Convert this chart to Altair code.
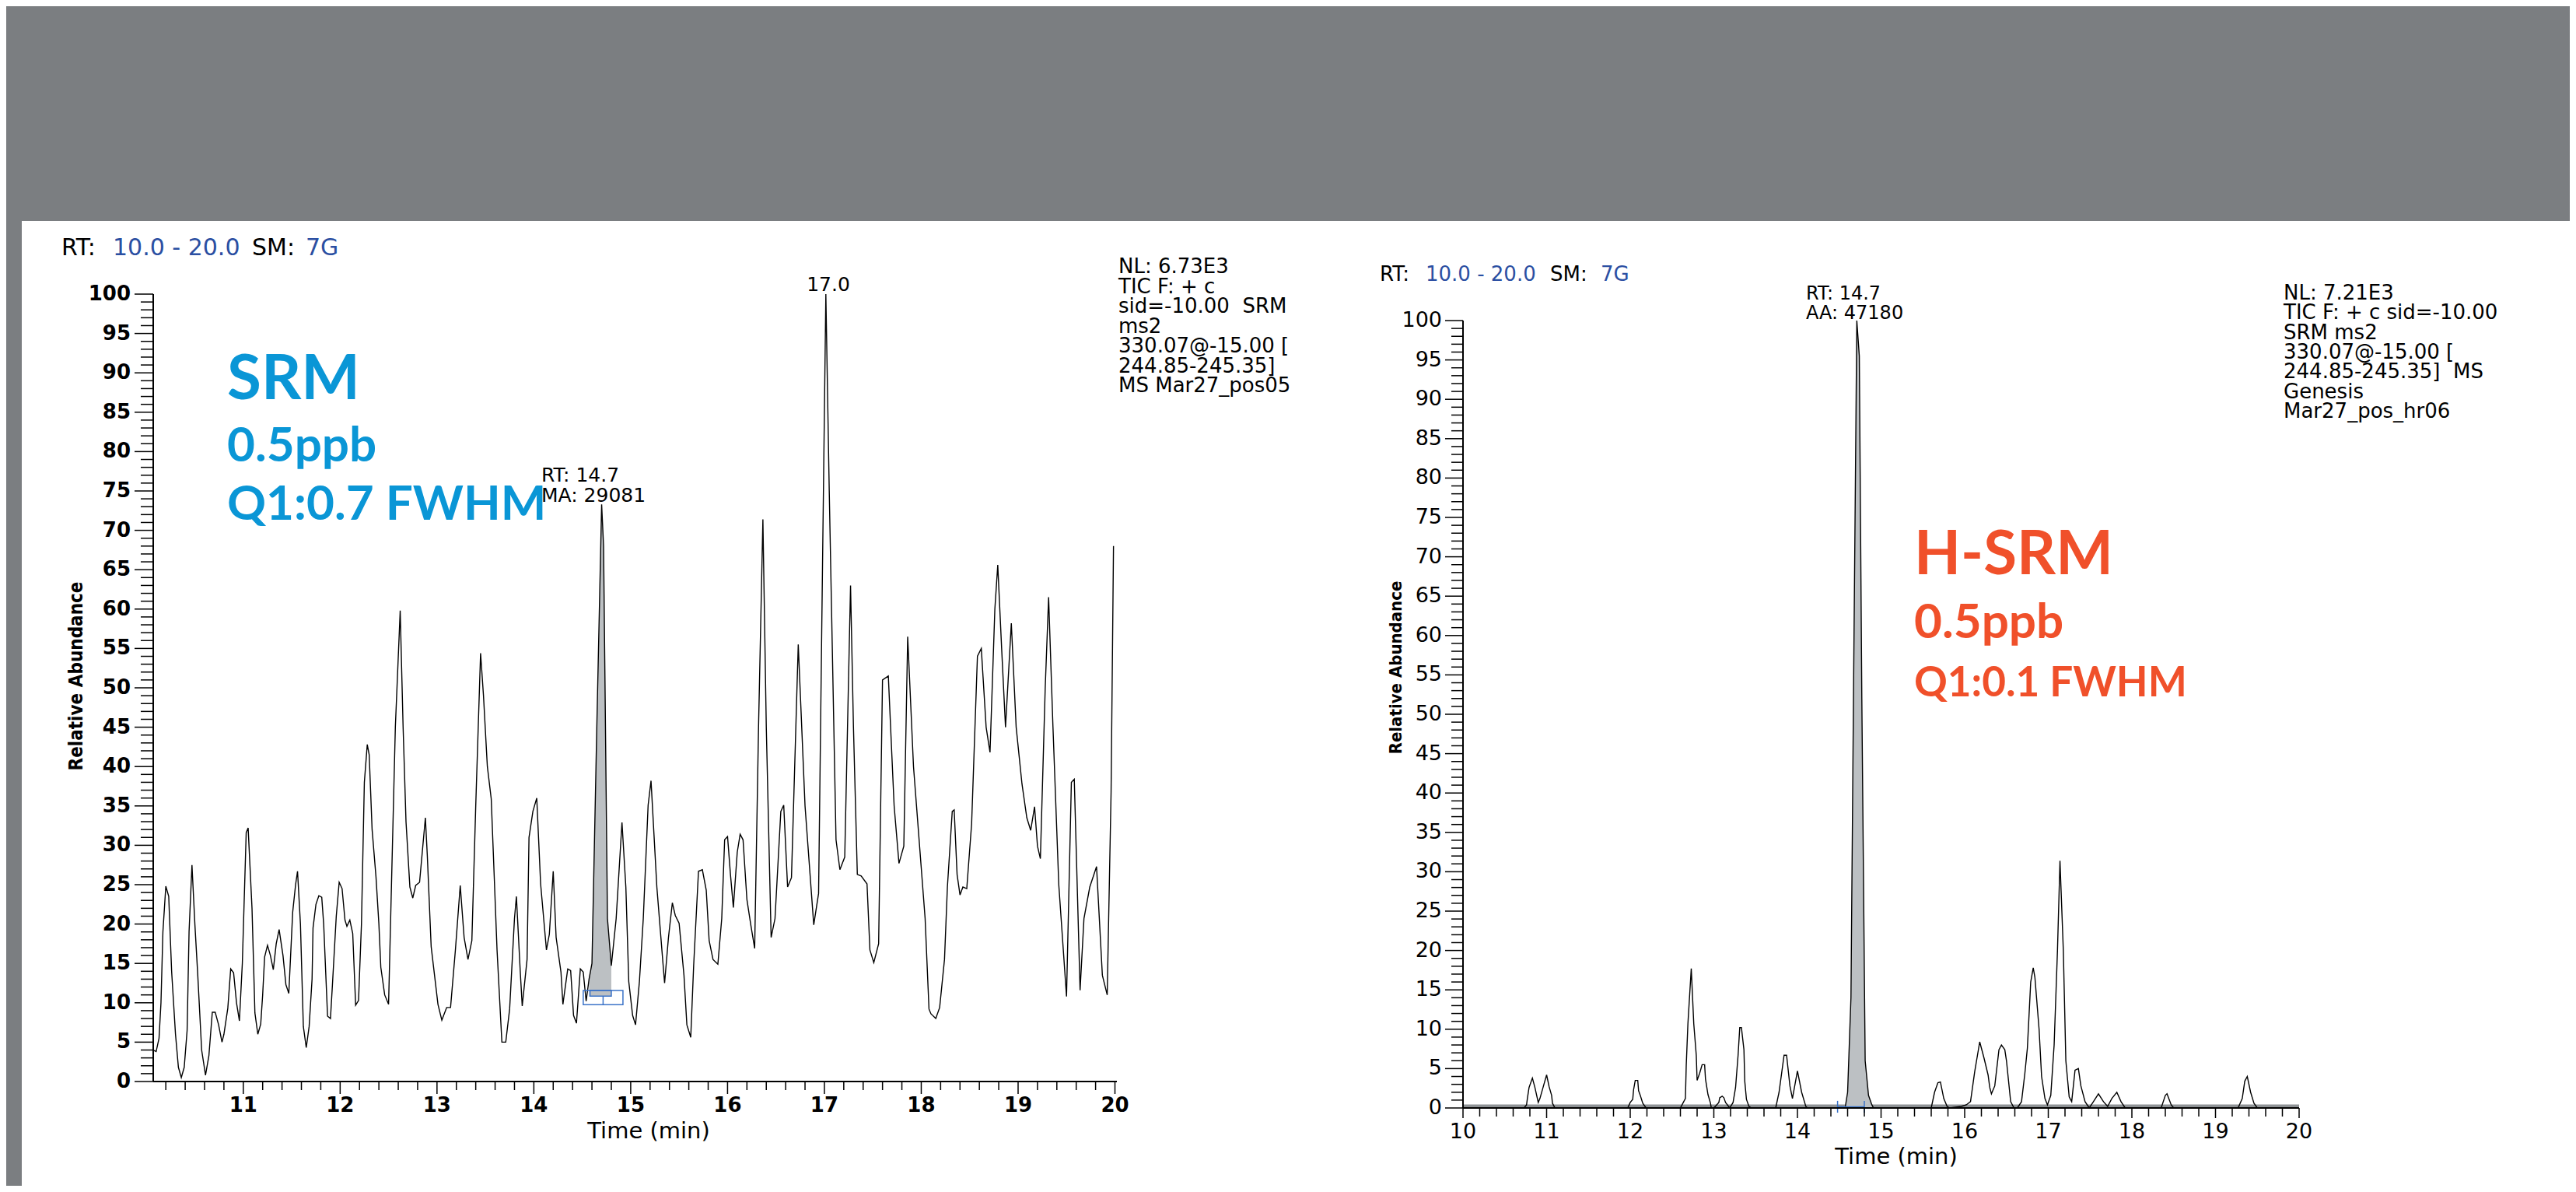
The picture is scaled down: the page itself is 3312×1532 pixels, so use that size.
import altair as alt
import pandas as pd

# ---------------- SRM (left panel) trace ----------------
srm_time = [10.07, 10.10, 10.13, 10.15, 10.17, 10.20, 10.23, 10.26, 10.30, 10.33, 10.36, 10.39, 10.42, 10.44,
            10.47, 10.50, 10.53, 10.57, 10.61, 10.645, 10.68, 10.71, 10.745, 10.78, 10.80, 10.84, 10.87, 10.90,
            10.93, 10.96, 10.99, 11.03, 11.05, 11.09, 11.12, 11.15, 11.18, 11.20, 11.22, 11.25, 11.28, 11.31,
            11.34, 11.37, 11.41, 11.44, 11.47, 11.51, 11.54, 11.56, 11.59, 11.62, 11.65, 11.68, 11.71, 11.72,
            11.75, 11.78, 11.81, 11.83, 11.87, 11.90, 11.92, 11.96, 11.99, 12.02, 12.05, 12.07, 12.10, 12.13,
            12.16, 12.19, 12.22, 12.25, 12.28, 12.30, 12.33, 12.37, 12.40, 12.42, 12.46, 12.50, 12.53, 12.57,
            12.62, 12.65, 12.68, 12.72, 12.75, 12.78, 12.82, 12.88, 12.90, 12.94, 13.01, 13.05, 13.10, 13.14,
            13.19, 13.24, 13.28, 13.32, 13.36, 13.40, 13.45, 13.48, 13.52, 13.56, 13.62, 13.67, 13.71, 13.75,
            13.80, 13.82, 13.86, 13.88, 13.93, 13.95, 13.99, 14.03, 14.07, 14.13, 14.16, 14.20, 14.23, 14.28,
            14.30, 14.35, 14.38, 14.41, 14.44, 14.48, 14.51, 14.54, 14.57, 14.60, 14.65, 14.70, 14.72, 14.76,
            14.80, 14.85, 14.91, 14.95, 14.98, 15.02, 15.05, 15.09, 15.13, 15.18, 15.21, 15.27, 15.33, 15.35,
            15.39, 15.43, 15.46, 15.50, 15.55, 15.58, 15.62, 15.65, 15.70, 15.74, 15.78, 15.81, 15.85, 15.90,
            15.94, 15.97, 16.00, 16.03, 16.06, 16.10, 16.13, 16.16, 16.20, 16.24, 16.28, 16.32, 16.365, 16.40,
            16.45, 16.49, 16.55, 16.58, 16.62, 16.66, 16.73, 16.80, 16.89, 16.94, 16.98, 17.015, 17.05, 17.12,
            17.16, 17.21, 17.27, 17.30, 17.34, 17.38, 17.44, 17.47, 17.51, 17.56, 17.60, 17.66, 17.72, 17.77,
            17.82, 17.86, 17.92, 18.04, 18.08, 18.10, 18.15, 18.19, 18.24, 18.27, 18.32, 18.34, 18.37, 18.40,
            18.43, 18.47, 18.52, 18.58, 18.62, 18.67, 18.71, 18.76, 18.79, 18.83, 18.87, 18.93, 18.98, 19.04,
            19.09, 19.13, 19.17, 19.20, 19.23, 19.28, 19.315, 19.36, 19.42, 19.50, 19.55, 19.58, 19.64, 19.68,
            19.74, 19.81, 19.87, 19.92, 19.96, 19.985]
srm_abund = [4.0, 3.8, 5.5, 10.0, 19.0, 24.8, 23.5, 14.0, 6.0, 1.8, 0.5, 1.8, 6.5, 19.0,
             27.5, 20.0, 13.5, 4.0, 0.8, 3.3, 8.8, 8.8, 7.2, 5.0, 6.0, 9.3, 14.3, 13.8,
             10.0, 7.7, 15.0, 31.6, 32.2, 22.0, 8.7, 6.0, 7.3, 11.0, 15.8, 17.3, 16.0, 14.2,
             17.5, 19.3, 16.0, 12.3, 11.2, 21.5, 25.0, 26.7, 20.0, 7.0, 4.3, 7.0, 13.0, 19.5,
             22.5, 23.6, 23.4, 20.0, 8.3, 8.0, 12.2, 21.0, 25.3, 24.5, 20.5, 19.7, 20.5, 18.8,
             9.7, 10.3, 20.0, 38.0, 42.8, 41.5, 32.0, 26.0, 20.0, 14.5, 11.0, 9.8, 25.0, 45.0,
             59.8, 45.0, 33.0, 24.7, 23.3, 24.9, 25.3, 33.5, 28.7, 17.1, 9.8, 7.8, 9.4, 9.4,
             16.7, 24.9, 18.3, 15.5, 17.9, 35.0, 54.4, 49.0, 40.0, 35.9, 16.7, 5.0, 5.0, 9.2,
             20.7, 23.5, 13.9, 9.6, 15.5, 31.0, 34.3, 36.0, 25.1, 16.7, 18.7, 26.7, 18.3, 13.9,
             9.8, 14.3, 14.1, 8.4, 7.4, 14.3, 13.9, 10.2, 13.0, 15.0, 45.0, 73.3, 68.0, 20.7,
             14.7, 20.7, 32.9, 24.7, 12.7, 8.4, 7.2, 12.7, 20.7, 35.1, 38.2, 24.7, 15.5, 12.5,
             18.3, 22.7, 21.1, 20.1, 13.5, 7.2, 5.6, 14.7, 26.7, 26.9, 24.3, 17.9, 15.5, 14.9,
             20.7, 30.7, 31.1, 26.3, 22.1, 29.1, 31.4, 30.7, 23.1, 19.9, 16.9, 45.0, 71.4, 45.0,
             18.3, 20.7, 34.3, 35.1, 24.7, 25.9, 55.5, 35.0, 19.9, 23.9, 65.0, 100.0, 75.0, 30.7,
             26.9, 28.5, 63.0, 45.0, 26.3, 26.1, 25.1, 16.7, 15.1, 17.5, 51.0, 51.5, 35.0, 27.7,
             29.9, 56.5, 40.0, 20.7, 9.2, 8.6, 8.0, 9.4, 15.5, 24.7, 34.3, 34.5, 26.3, 23.7,
             24.7, 24.5, 32.7, 54.0, 55.0, 45.0, 41.8, 60.0, 65.6, 55.0, 45.0, 58.2, 45.0, 37.8,
             33.5, 31.9, 34.9, 29.9, 28.3, 50.0, 61.5, 45.0, 25.0, 10.8, 38.0, 38.4, 11.6, 20.7,
             24.7, 27.3, 13.5, 11.0, 36.7, 68.0]

# ---------------- H-SRM (right panel) trace ----------------
hsrm_time = [10.0, 10.73, 10.76, 10.77, 10.79, 10.83, 10.86, 10.90, 10.92, 10.96, 11.00, 11.03, 11.06, 11.07,
             11.10, 11.97, 12.00, 12.03, 12.04, 12.06, 12.09, 12.10, 12.12, 12.15, 12.19, 12.60, 12.63, 12.66,
             12.67, 12.69, 12.73, 12.76, 12.79, 12.80, 12.83, 12.86, 12.89, 12.90, 12.93, 12.96, 12.97, 13.00,
             13.06, 13.07, 13.10, 13.12, 13.14, 13.19, 13.23, 13.26, 13.29, 13.31, 13.33, 13.36, 13.37, 13.39,
             13.42, 13.45, 13.74, 13.78, 13.84, 13.87, 13.91, 13.94, 14.00, 14.05, 14.10, 14.12, 14.57, 14.60,
             14.64, 14.67, 14.71, 14.74, 14.77, 14.81, 14.85, 14.89, 14.91, 15.60, 15.64, 15.68, 15.71, 15.75,
             15.79, 15.82, 15.96, 16.02, 16.07, 16.12, 16.18, 16.23, 16.28, 16.30, 16.32, 16.36, 16.41, 16.44,
             16.48, 16.50, 16.55, 16.59, 16.63, 16.68, 16.72, 16.75, 16.79, 16.82, 16.84, 16.89, 16.92, 16.96,
             16.99, 17.03, 17.07, 17.11, 17.14, 17.18, 17.21, 17.25, 17.28, 17.32, 17.36, 17.39, 17.44, 17.49,
             17.54, 17.60, 17.66, 17.71, 17.76, 17.82, 17.87, 17.92, 18.35, 18.40, 18.42, 18.47, 18.50, 19.27,
             19.32, 19.35, 19.38, 19.42, 19.46, 19.50, 20.0]
hsrm_abund = [0.0, 0.0, 0.4, 1.2, 2.6, 3.8, 2.6, 0.7, 1.2, 2.7, 4.2, 2.7, 1.6, 0.6,
              0.0, 0.0, 0.7, 1.1, 2.3, 3.5, 3.5, 2.2, 1.6, 0.6, 0.0, 0.0, 0.6, 1.2,
              5.4, 10.7, 17.7, 10.7, 6.7, 3.5, 4.4, 5.5, 5.5, 3.7, 1.7, 0.6, 0.0, 0.0,
              0.7, 1.3, 1.5, 1.3, 0.7, 0.0, 0.7, 2.6, 6.7, 10.2, 10.2, 7.4, 3.4, 1.1,
              0.2, 0.0, 0.0, 2.0, 6.7, 6.7, 2.8, 1.2, 4.7, 2.0, 0.2, 0.0, 0.0, 2.0,
              14.0, 52.0, 100.0, 95.5, 52.0, 6.0, 1.6, 0.4, 0.0, 0.0, 2.0, 3.2, 3.3, 1.2,
              0.2, 0.0, 0.2, 0.4, 0.8, 4.6, 8.4, 6.4, 4.2, 2.6, 1.8, 2.8, 7.4, 8.0,
              7.4, 6.0, 0.8, 0.0, 0.0, 0.8, 4.4, 7.6, 16.0, 17.8, 16.6, 10.0, 4.0, 1.2,
              0.4, 1.6, 8.0, 20.0, 31.4, 20.0, 6.0, 1.4, 0.8, 4.8, 5.0, 2.8, 0.8, 0.0,
              0.8, 1.8, 0.8, 0.2, 1.2, 2.0, 0.8, 0.0, 0.0, 1.6, 1.8, 0.4, 0.0, 0.0,
              1.2, 3.4, 4.0, 2.0, 0.6, 0.0, 0.0]

# integrated peak windows and baseline markers
srm_peak_window = [14.57, 14.80]
srm_peak_base = 10.8
hsrm_peak_window = [14.57, 14.91]
srm_box_outer = [14.51, 14.92, 9.76, 11.55]
srm_box_inner = [14.58, 14.80, 10.84, 11.55]
srm_box_stem = [14.715, 9.76, 10.84]
hsrm_marker_times = [14.48, 14.80]

# axis ticks
srm_x_major = [11, 12, 13, 14, 15, 16, 17, 18, 19, 20]
hsrm_x_major = [10, 11, 12, 13, 14, 15, 16, 17, 18, 19, 20]
x_minor = [round(10 + 0.2 * i, 1) for i in range(1, 50) if i % 5]
y_major = list(range(0, 101, 5))
y_minor = [v for v in range(0, 101) if v % 5]

# texts
srm_info = ["NL: 6.73E3", "TIC F: + c", "sid=-10.00\u00a0\u00a0SRM", "ms2",
            "330.07@-15.00 [", "244.85-245.35]", "MS Mar27_pos05"]
hsrm_info = ["NL: 7.21E3", "TIC F: + c sid=-10.00", "SRM ms2", "330.07@-15.00 [",
             "244.85-245.35]\u00a0\u00a0MS", "Genesis", "Mar27_pos_hr06"]
srm_title = ["SRM", "0.5ppb", "Q1:0.7 FWHM"]
hsrm_title = ["H-SRM", "0.5ppb", "Q1:0.1 FWHM"]
x_title = "Time (min)"
y_title = "Relative Abundance"

# ---------------- styling ----------------
BAND = "#7b7e81"
HDR_BLUE = "#2b4fa2"
SRM_BLUE = "#0a96d6"
HSRM_ORANGE = "#f0502a"
PEAK_FILL = "#bcc0c3"
BOX_BLUE = "#3b73c8"
FONT = "DejaVu Sans"
CONDFONT = "DejaVu Sans Condensed, DejaVu Sans"
BIGFONT = "Lato"

ONE = pd.DataFrame({"k": [0]})


def text_mark(px, py, s, size, color, font=FONT, weight="normal", align="left", baseline="middle", angle=0):
    return alt.Chart(ONE).mark_text(font=font, fontSize=size, color=color, fontWeight=weight,
                                    align=align, baseline=baseline, angle=angle).encode(
        x=alt.value(px), y=alt.value(py), text=alt.value(s))


def gray_rect(x0, x1, y0, y1):
    return alt.Chart(ONE).mark_rect(fill=BAND, strokeWidth=0).encode(
        x=alt.value(x0), x2=alt.value(x1), y=alt.value(y0), y2=alt.value(y1))


def panel(time, abund, xdom, ydom, W, H, x_major, peak_window, peak_base, cfg):
    xs = alt.Scale(domain=xdom, nice=False, zero=False)
    ys = alt.Scale(domain=ydom, nice=False, zero=False)
    X = lambda f: alt.X(f, scale=xs, axis=None)
    Y = lambda f: alt.Y(f, scale=ys, axis=None)
    df = pd.DataFrame({"t": time, "v": abund})
    pk = df[(df.t >= peak_window[0]) & (df.t <= peak_window[1])].copy()
    pk["v2"] = peak_base

    layers = [gray_rect(*r) for r in cfg["gray"]]

    if cfg.get("baseline_band"):
        layers.append(alt.Chart(pd.DataFrame({"t": [xdom[0]], "t2": [xdom[1]], "v": [0.25]})).mark_rule(
            color="#8e9295", strokeWidth=4).encode(x=X("t:Q"), x2="t2:Q", y=Y("v:Q")))

    # peak fill and trace
    layers.append(alt.Chart(pk).mark_area(color=PEAK_FILL, opacity=1).encode(
        x=X("t:Q"), y=Y("v:Q"), y2="v2:Q"))
    layers.append(alt.Chart(df).mark_line(color="black", strokeWidth=1.4).encode(
        x=X("t:Q"), y=Y("v:Q")))

    layers.extend(cfg["extra"](xs, ys))

    # ---- axes drawn from tick lists through the scales ----
    layers.append(alt.Chart(pd.DataFrame({"t": [xdom[0]], "t2": [xdom[1]], "v": [0]})).mark_rule(
        color="black", strokeWidth=2).encode(x=X("t:Q"), x2="t2:Q", y=Y("v:Q")))
    layers.append(alt.Chart(pd.DataFrame({"t": [xdom[0]], "v": [0], "v2": [100]})).mark_rule(
        color="black", strokeWidth=2).encode(x=X("t:Q"), y=Y("v:Q"), y2="v2:Q"))
    xmin_list = [m for m in x_minor if xdom[0] < m < xdom[1]]
    layers.append(alt.Chart(pd.DataFrame({"t": xmin_list})).mark_rule(color="black", strokeWidth=1.5).encode(
        x=X("t:Q"), y=alt.value(H), y2=alt.value(H + cfg["xminor"])))
    layers.append(alt.Chart(pd.DataFrame({"t": x_major})).mark_rule(color="black", strokeWidth=1.5).encode(
        x=X("t:Q"), y=alt.value(H), y2=alt.value(H + cfg["xtick"])))
    layers.append(alt.Chart(pd.DataFrame({"t": x_major, "lab": [str(m) for m in x_major]})).mark_text(
        font=FONT, fontSize=cfg["lab"], fontWeight=cfg["lab_weight"], color="black",
        align="center", baseline="middle").encode(
        x=X("t:Q"), y=alt.value(H + cfg["xlab_dy"]), text="lab:N"))
    layers.append(alt.Chart(pd.DataFrame({"v": y_minor})).mark_rule(color="black", strokeWidth=1.5).encode(
        y=Y("v:Q"), x=alt.value(-cfg["yminor"]), x2=alt.value(0)))
    layers.append(alt.Chart(pd.DataFrame({"v": y_major})).mark_rule(color="black", strokeWidth=1.5).encode(
        y=Y("v:Q"), x=alt.value(-cfg["ytick"]), x2=alt.value(0)))
    layers.append(alt.Chart(pd.DataFrame({"v": y_major, "lab": [str(m) for m in y_major]})).mark_text(
        font=FONT, fontSize=cfg["lab"], fontWeight=cfg["lab_weight"], color="black",
        align="right", baseline="middle").encode(
        y=Y("v:Q"), x=alt.value(cfg["ylab_x"]), text="lab:N"))
    tx, ty = cfg["xtitle_pos"]
    layers.append(text_mark(tx, ty, x_title, cfg["xtitle"], "black", align="center"))
    ux, uy = cfg["ytitle_pos"]
    layers.append(text_mark(ux, uy, y_title, cfg["ytitle"], "black", font=CONDFONT, weight="bold",
                            align="center", angle=270))

    # ---- annotation texts ----
    hx, hy = cfg["hdr"]
    hs = cfg["hdr_size"]
    layers += [text_mark(hx[0], hy, "RT:", hs, "black"), text_mark(hx[1], hy, "10.0 - 20.0", hs, HDR_BLUE),
               text_mark(hx[2], hy, "SM:", hs, "black"), text_mark(hx[3], hy, "7G", hs, HDR_BLUE)]
    ix, iy, istep = cfg["info"]
    layers += [text_mark(ix, iy + i * istep, s, cfg["info_size"], "black") for i, s in enumerate(cfg["info_lines"])]
    layers += [text_mark(px, py, s, cfg["peak_size"], "black") for px, py, s in cfg["peak_txt"]]
    layers += [text_mark(px, py, s, cfg["peak_size"], "black", align="center") for px, py, s in cfg["peak_txt_c"]]
    bx, bys, bsz = cfg["big"]
    layers += [text_mark(bx, by, s, sz, cfg["big_color"], font=BIGFONT, weight="bold", baseline="alphabetic")
               for s, by, sz in zip(cfg["big_lines"], bys, bsz)]

    return alt.layer(*layers).properties(width=W, height=H)


def srm_extra(xs, ys):
    o, i, s = srm_box_outer, srm_box_inner, srm_box_stem
    boxes = pd.DataFrame({"t": [o[0], i[0]], "t2": [o[1], i[1]], "v": [o[2], i[2]], "v2": [o[3], i[3]]})
    stem = pd.DataFrame({"t": [s[0]], "v": [s[1]], "v2": [s[2]]})
    return [
        alt.Chart(boxes).mark_rect(fill=None, stroke=BOX_BLUE, strokeWidth=1.5).encode(
            x=alt.X("t:Q", scale=xs, axis=None), x2="t2:Q", y=alt.Y("v:Q", scale=ys, axis=None), y2="v2:Q"),
        alt.Chart(stem).mark_rule(color=BOX_BLUE, strokeWidth=1.5).encode(
            x=alt.X("t:Q", scale=xs, axis=None), y=alt.Y("v:Q", scale=ys, axis=None), y2="v2:Q"),
    ]


def hsrm_extra(xs, ys):
    ticks = pd.DataFrame({"t": hsrm_marker_times, "v": [-0.6] * 2, "v2": [0.9] * 2})
    bar = pd.DataFrame({"t": [hsrm_marker_times[0]], "t2": [hsrm_marker_times[1]], "v": [0.15]})
    return [
        alt.Chart(ticks).mark_rule(color=BOX_BLUE, strokeWidth=1.5).encode(
            x=alt.X("t:Q", scale=xs, axis=None), y=alt.Y("v:Q", scale=ys, axis=None), y2="v2:Q"),
        alt.Chart(bar).mark_rule(color=BOX_BLUE, strokeWidth=1.5).encode(
            x=alt.X("t:Q", scale=xs, axis=None), x2="t2:Q", y=alt.Y("v:Q", scale=ys, axis=None)),
    ]


H1 = 1012
H2 = 1046
cfg1 = dict(xtick=16, ytick=24, xminor=11, yminor=16, lab=26, lab_weight="bold", xlab_dy=31, ylab_x=-29,
            xtitle=29, xtitle_pos=(637, H1 + 64), ytitle=24, ytitle_pos=(-98, 491),
            gray=[(-189, 1543, -370, -94), (-189, -169, -94, 1146)], extra=srm_extra,
            hdr=((-118, -52, 127, 196), -59), hdr_size=30,
            info=(1241, -35, 25.5), info_lines=srm_info, info_size=26,
            peak_txt=[(499, 233, "RT: 14.7"), (499, 259, "MA: 29081")],
            peak_txt_c=[(868, -12, "17.0")], peak_size=25,
            big=(95, (135, 215, 290), (80, 62, 62)), big_lines=srm_title, big_color=SRM_BLUE)
cfg2 = dict(xtick=13, ytick=23, xminor=11, yminor=15, lab=27, lab_weight="normal", xlab_dy=31, ylab_x=-27,
            xtitle=29, xtitle_pos=(557, H2 + 63), ytitle=22, ytitle_pos=(-86, 480),
            gray=[(-141, 1423, -370, -94)], extra=hsrm_extra, baseline_band=True,
            hdr=((-107, -48, 112, 177), -25), hdr_size=26,
            info=(1055, -1, 25.3), info_lines=hsrm_info, info_size=26,
            peak_txt=[(441, 0, "RT: 14.7"), (441, 25, "AA: 47180")],
            peak_txt_c=[], peak_size=24,
            big=(580, (360, 442, 517), (78, 62, 53)), big_lines=hsrm_title, big_color=HSRM_ORANGE)

p1 = panel(srm_time, srm_abund, [10.07, 20.02], [0, 100], 1239, H1, srm_x_major,
           srm_peak_window, srm_peak_base, cfg1)
p2 = panel(hsrm_time, hsrm_abund, [10, 20], [0, 100 * H2 / H1], 1075, H2, hsrm_x_major,
           hsrm_peak_window, 0.0, cfg2)

chart = alt.hconcat(p1, p2, spacing=0).properties(
    padding=0,
    background="white",
).configure_view(stroke=None)

chart.save("out.html", embed_options={"renderer": "svg", "actions": False})
